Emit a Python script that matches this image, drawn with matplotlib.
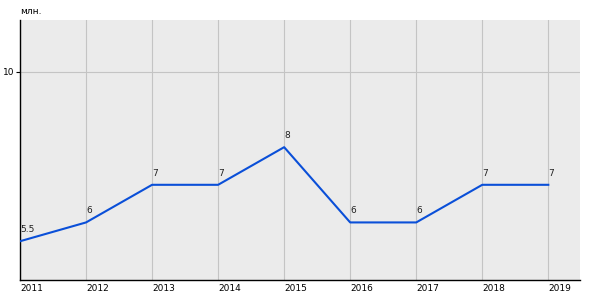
import matplotlib
matplotlib.use("Agg")
import matplotlib.pyplot as plt

years = [2011, 2012, 2013, 2014, 2015, 2016, 2017, 2018, 2019]
values = [5.5, 6, 7, 7, 8, 6, 6, 7, 7]
labels = ["5.5", "6", "7", "7", "8", "6", "6", "7", "7"]

BG = "#ebebeb"
LINE = "#0a4fd8"

fig = plt.figure(figsize=(6, 3), dpi=100)
ax = fig.add_axes([20 / 600, 20 / 300, 560 / 600, 260 / 300])
ax.set_facecolor(BG)

ax.plot(years, values, color=LINE, linewidth=1.5, zorder=3)
for x, y, t in zip(years, values, labels):
    ax.annotate(t, (x, y), xytext=(0, 5), textcoords="offset points",
                fontsize=6.5, ha="left", va="bottom", color="#222222")

ax.set_xlim(2011, 2019.48)
ax.set_ylim(4.47, 11.38)
ax.set_xticks(years)
ax.set_xticklabels([str(y) for y in years], ha="left")
ax.set_yticks([10])
ax.grid(True, color="#c4c4c4", linewidth=0.8)
ax.set_axisbelow(True)
ax.tick_params(axis="x", length=0, labelsize=6.5, pad=3)
ax.tick_params(axis="y", length=3, labelsize=6.5, pad=1)

for side in ["top", "right"]:
    ax.spines[side].set_visible(False)
for side in ["left", "bottom"]:
    ax.spines[side].set_color("black")
    ax.spines[side].set_linewidth(1)

fig.text(20 / 600, 1 - 12 / 300, "млн.", fontsize=6.5, ha="left", va="center")

fig.savefig("out.png", dpi=100)
